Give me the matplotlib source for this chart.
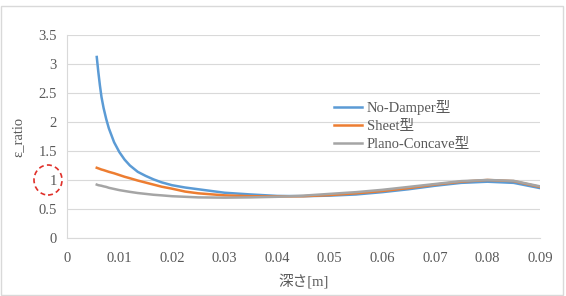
import numpy as np
import matplotlib
matplotlib.use("Agg")
import matplotlib.pyplot as plt
from matplotlib.patches import Ellipse, Rectangle

plt.rcParams['font.family'] = ['Liberation Serif', 'Noto Sans CJK JP']

# depth [m]
depth = [0.0057, 0.006, 0.0063, 0.0066, 0.007, 0.0075, 0.008, 0.009, 0.01, 0.011, 0.012,
         0.0135, 0.015, 0.0165, 0.018, 0.02, 0.0225, 0.025, 0.03, 0.035, 0.04,
         0.045, 0.05, 0.055, 0.06, 0.065, 0.07, 0.075, 0.08, 0.085, 0.09]
no_damper = [3.12, 2.86, 2.63, 2.43, 2.24, 2.05, 1.89, 1.65, 1.48, 1.35, 1.25,
             1.14, 1.07, 1.01, 0.96, 0.91, 0.87, 0.84, 0.78, 0.75, 0.725,
             0.72, 0.73, 0.75, 0.79, 0.84, 0.9, 0.95, 0.97, 0.95, 0.86]
sheet = [1.21, 1.2, 1.19, 1.18, 1.17, 1.155, 1.14, 1.115, 1.085, 1.055, 1.03,
         0.99, 0.955, 0.92, 0.885, 0.85, 0.8, 0.77, 0.735, 0.72, 0.715,
         0.72, 0.74, 0.77, 0.81, 0.86, 0.92, 0.97, 1.0, 0.98, 0.88]
plano = [0.92, 0.91, 0.905, 0.9, 0.89, 0.88, 0.865, 0.845, 0.825, 0.81, 0.795,
         0.775, 0.76, 0.745, 0.735, 0.72, 0.71, 0.70, 0.695, 0.70, 0.71,
         0.73, 0.76, 0.79, 0.83, 0.88, 0.93, 0.98, 1.0, 0.985, 0.89]
labels = ["No-Damper型", "Sheet型", "Plano-Concave型"]
xticks = [0, 0.01, 0.02, 0.03, 0.04, 0.05, 0.06, 0.07, 0.08, 0.09]
xticklabels = ["0", "0.01", "0.02", "0.03", "0.04", "0.05", "0.06", "0.07", "0.08", "0.09"]
yticks = [0, 0.5, 1, 1.5, 2, 2.5, 3, 3.5]
yticklabels = ["0", "0.5", "1", "1.5", "2", "2.5", "3", "3.5"]

fig = plt.figure(figsize=(5.66, 2.96), dpi=100)
ax = fig.add_axes([0.118, 0.196, 0.836, 0.686])

ax.plot(depth, no_damper, color="#5b9bd5", lw=1.8, label=labels[0])
ax.plot(depth, sheet, color="#ed7d31", lw=1.8, label=labels[1])
ax.plot(depth, plano, color="#a5a5a5", lw=1.8, label=labels[2])

ax.set_xlim(0, 0.09)
ax.set_ylim(0, 3.5)
ax.set_xticks(xticks)
ax.set_xticklabels(xticklabels)
ax.set_yticks(yticks)
ax.set_yticklabels(yticklabels)
ax.tick_params(axis="y", length=0, labelsize=10.5, colors="#595959", pad=7)
ax.tick_params(axis="x", length=0, labelsize=10.5, colors="#595959", pad=10)
ax.grid(axis="y", color="#d9d9d9", lw=0.8)
ax.set_axisbelow(True)
for s in ["top", "right"]:
    ax.spines[s].set_visible(False)
for s in ["left", "bottom"]:
    ax.spines[s].set_color("#d9d9d9")

ax.set_xlabel("深さ[m]", fontsize=10.5, color="#595959", labelpad=6)
ax.set_ylabel("ε_ratio", fontsize=10.5, color="#595959", labelpad=10)

leg = ax.legend(loc="upper left", bbox_to_anchor=(0.565, 0.68), frameon=False,
                fontsize=10.5, handlelength=1.9, handletextpad=0.35,
                labelspacing=0.33, labelcolor="#595959",
                borderaxespad=0, borderpad=0)

# red dashed circle around tick "1"
fig.patches.append(Ellipse((48 / 566, 1 - 180 / 296), 28 / 566, 30 / 296,
                           transform=fig.transFigure, fill=False,
                           ec="#e0302a", lw=1.2, ls=(0, (3, 2))))
# outer frame
fig.patches.append(Rectangle((1 / 566, 1 / 296), 562 / 566, 289 / 296,
                             transform=fig.transFigure, fill=False,
                             ec="#d9d9d9", lw=1))

fig.savefig("out.png", dpi=100)
